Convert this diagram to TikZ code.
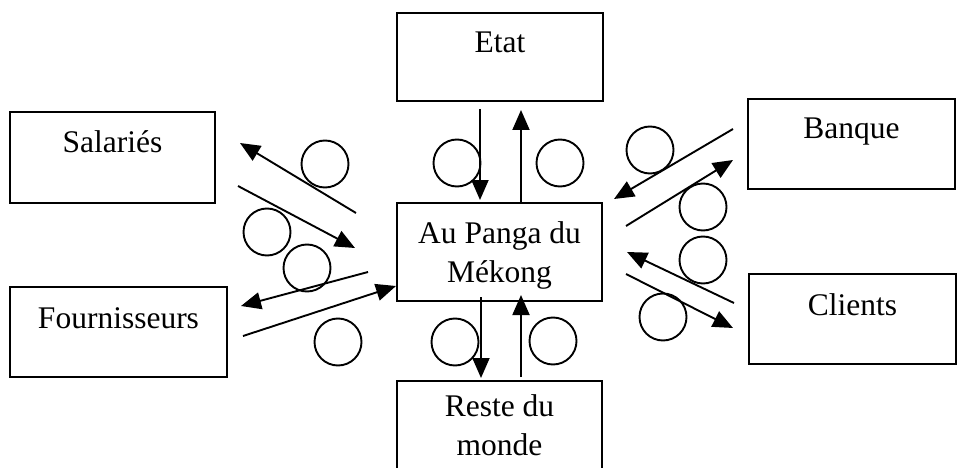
\documentclass[tikz,border=0pt]{standalone}
\usepackage{fontspec}
\setmainfont{Liberation Serif}
\usetikzlibrary{arrows.meta}
\begin{document}
\begin{tikzpicture}[x=1pt,y=-1pt,
  box/.style={draw, line width=2.2pt, inner sep=0pt, rectangle},
  txt/.style={font=\fontsize{31.5}{39}\selectfont, anchor=base, inner sep=0pt, align=center},
  flow/.style={line width=1.9pt, -{Triangle[length=20pt,width=17pt]}},
  ring/.style={draw, line width=1.9pt, circle, minimum size=47pt, inner sep=0pt}]
\useasboundingbox (0,0) rectangle (958,468);
\clip (0,0) rectangle (958,468);
% boxes
\node[box, minimum width=206pt, minimum height=88pt] (etat) at (500,57) {};
\node[box, minimum width=205pt, minimum height=91pt] (sal) at (112.5,157.5) {};
\node[box, minimum width=217pt, minimum height=90pt] (four) at (118.5,332) {};
\node[box, minimum width=205pt, minimum height=98pt] (panga) at (499.5,252) {};
\node[box, minimum width=205pt, minimum height=99pt] (reste) at (499.5,430.5) {};
\node[box, minimum width=207pt, minimum height=90pt] (banque) at (851.5,144) {};
\node[box, minimum width=207pt, minimum height=90pt] (clients) at (852.5,319) {};
% texts
\node[txt] (tetat) at (500,53) {Etat};
\node[txt] (tsal) at (112.5,153) {Salariés};
\node[txt] (tfour) at (118.5,328) {Fournisseurs};
\node[txt] (tbanque) at (851.5,139) {Banque};
\node[txt] (tclients) at (852.5,315) {Clients};
\node[txt] (tpanga) at (499.5,282) {Au Panga du\\Mékong};
\node[txt] (treste) at (499.5,455) {Reste du\\monde};
% circles
\node[ring] (c1) at (325,164) {};
\node[ring] (c2) at (267,232) {};
\node[ring] (c3) at (307,268) {};
\node[ring] (c4) at (338,342) {};
\node[ring] (c5) at (457,163) {};
\node[ring] (c6) at (560,163) {};
\node[ring] (c7) at (455,342) {};
\node[ring] (c8) at (553,341) {};
\node[ring] (c9) at (650,150) {};
\node[ring] (c10) at (703,207) {};
\node[ring] (c11) at (703,260) {};
\node[ring] (c12) at (663,317) {};
% arrow end points
\coordinate (s1a) at (356,213); \coordinate (s1b) at (240,143);
\coordinate (s2a) at (238,186); \coordinate (s2b) at (355,248);
\coordinate (f1a) at (368,272); \coordinate (f1b) at (241,306);
\coordinate (f2a) at (243,336); \coordinate (f2b) at (396,286);
\coordinate (e1a) at (480,109); \coordinate (e1b) at (480,200);
\coordinate (e2a) at (521,202); \coordinate (e2b) at (521,110);
\coordinate (r1a) at (481,297); \coordinate (r1b) at (481,378);
\coordinate (r2a) at (521,377); \coordinate (r2b) at (521,295);
\coordinate (b1a) at (733,129); \coordinate (b1b) at (614,199);
\coordinate (b2a) at (626,226); \coordinate (b2b) at (733,160);
\coordinate (k1a) at (734,303); \coordinate (k1b) at (627,252);
\coordinate (k2a) at (626,274); \coordinate (k2b) at (733,328);
% arrows
\draw[flow] (s1a) -- (s1b);
\draw[flow] (s2a) -- (s2b);
\draw[flow] (f1a) -- (f1b);
\draw[flow] (f2a) -- (f2b);
\draw[flow] (e1a) -- (e1b);
\draw[flow] (e2a) -- (e2b);
\draw[flow] (r1a) -- (r1b);
\draw[flow] (r2a) -- (r2b);
\draw[flow] (b1a) -- (b1b);
\draw[flow] (b2a) -- (b2b);
\draw[flow] (k1a) -- (k1b);
\draw[flow] (k2a) -- (k2b);
\end{tikzpicture}
\end{document}
